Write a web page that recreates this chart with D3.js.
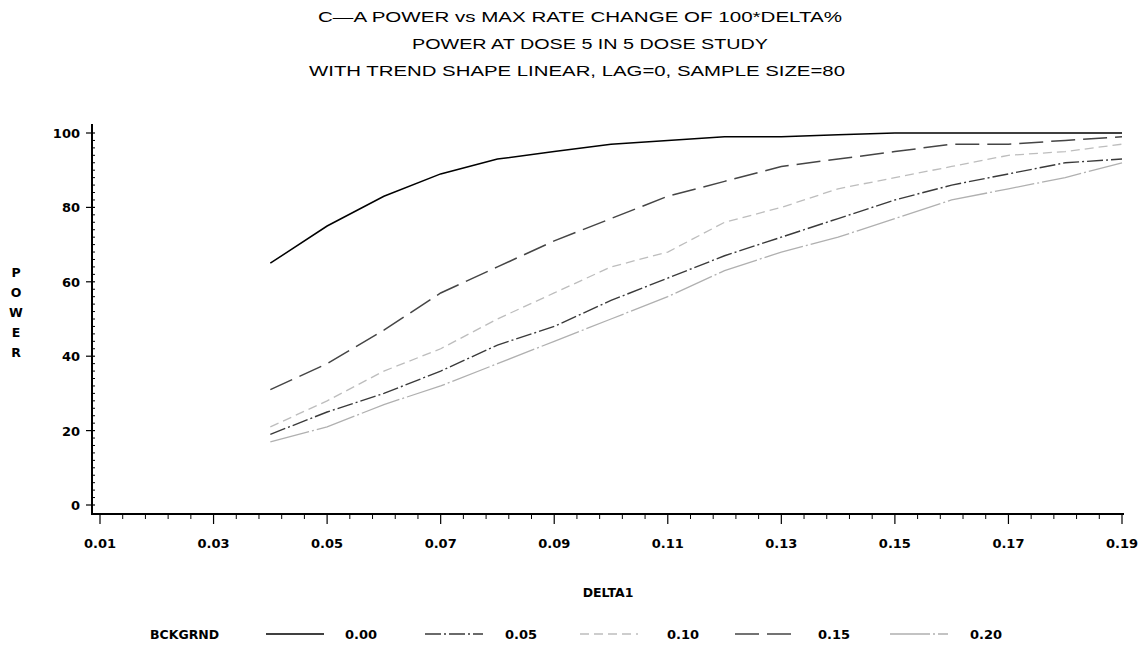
<!DOCTYPE html>
<html>
<head>
<meta charset="utf-8">
<script src="https://cdn.jsdelivr.net/npm/d3@7"></script>
<style>
  html, body { margin: 0; padding: 0; background: #fff; }
  svg { display: block; }
  .t { font-family: "Liberation Sans", Arial, sans-serif; fill: #000; }
  .b { font-family: "DejaVu Sans", "Liberation Sans", sans-serif; font-weight: bold; fill: #000; }
</style>
</head>
<body>
<svg id="chart" width="1145" height="648"></svg>
<script>
// Power curves by background rate (BCKGRND), delta from 0.04 to 0.19
const titles = [
  "C\u2014A POWER vs MAX RATE CHANGE OF 100*DELTA%",
  "POWER AT DOSE 5 IN 5 DOSE STUDY",
  "WITH TREND SHAPE LINEAR, LAG=0, SAMPLE SIZE=80"
];
const delta = [0.04, 0.05, 0.06, 0.07, 0.08, 0.09, 0.10, 0.11, 0.12, 0.13, 0.14, 0.15, 0.16, 0.17, 0.18, 0.19];
const bg000 = [65, 75, 83, 89, 93, 95, 97, 98, 99, 99, 99.5, 100, 100, 100, 100, 100];
const bg005 = [19, 25, 30, 36, 43, 48, 55, 61, 67, 72, 77, 82, 86, 89, 92, 93];
const bg010 = [21, 28, 36, 42, 50, 57, 64, 68, 76, 80, 85, 88, 91, 94, 95, 97];
const bg015 = [31, 38, 47, 57, 64, 71, 77, 83, 87, 91, 93, 95, 97, 97, 98, 99];
const bg020 = [17, 21, 27, 32, 38, 44, 50, 56, 63, 68, 72, 77, 82, 85, 88, 92];
const seriesNames = ["0.00", "0.05", "0.10", "0.15", "0.20"];
const xTicks = [0.01, 0.03, 0.05, 0.07, 0.09, 0.11, 0.13, 0.15, 0.17, 0.19];
const yTicks = [0, 20, 40, 60, 80, 100];

const styles = [
  { color: "#000000", dash: null, w: 1.5 },
  { color: "#3a3a3a", dash: "16,3,2,3", w: 1.4 },
  { color: "#bdbdbd", dash: "9,5", w: 1.3 },
  { color: "#454545", dash: "24,8", w: 1.5 },
  { color: "#b0b0b0", dash: "40,3,2,3", w: 1.3 }
];
const seriesValues = [bg000, bg005, bg010, bg015, bg020];

const svg = d3.select("#chart");
const x = d3.scaleLinear().domain([0.01, 0.19]).range([100, 1122]);
const y = d3.scaleLinear().domain([0, 100]).range([505, 133]);

// titles (wide lettering)
const titleCx = [580, 590, 577];
const titleLen = [524, 356, 536];
svg.selectAll("text.title").data(titles).enter().append("text")
  .attr("class", "t title")
  .attr("x", (d, i) => titleCx[i]).attr("y", (d, i) => 22 + i * 27)
  .attr("text-anchor", "middle")
  .attr("font-size", 15)
  .attr("textLength", (d, i) => titleLen[i])
  .attr("lengthAdjust", "spacingAndGlyphs")
  .text(d => d);

// y axis: major ticks outward, minor ticks inward
const yAxisX = 92;
svg.append("line").attr("x1", yAxisX).attr("x2", yAxisX).attr("y1", 124).attr("y2", 515)
  .attr("stroke", "#000").attr("stroke-width", 2);
const yMinor = d3.range(0, 101, 2).filter(v => v % 20 !== 0);
svg.selectAll("line.ymin").data(yMinor).enter().append("line")
  .attr("x1", yAxisX).attr("x2", yAxisX + 3)
  .attr("y1", d => y(d)).attr("y2", d => y(d))
  .attr("stroke", "#000").attr("stroke-width", 1);
svg.selectAll("line.ymaj").data(yTicks).enter().append("line")
  .attr("x1", yAxisX - 6).attr("x2", yAxisX + 3)
  .attr("y1", d => y(d)).attr("y2", d => y(d))
  .attr("stroke", "#000").attr("stroke-width", 1.2);
svg.selectAll("text.ylab").data(yTicks).enter().append("text")
  .attr("class", "b")
  .attr("x", 80).attr("y", d => y(d) + 5)
  .attr("text-anchor", "end")
  .attr("font-size", 13)
  .text(d => d);

// y axis label, stacked letters
svg.selectAll("text.ytitle").data("POWER".split("")).enter().append("text")
  .attr("class", "b")
  .attr("x", 16).attr("y", (d, i) => 277 + i * 20)
  .attr("text-anchor", "middle")
  .attr("font-size", 12.5)
  .text(d => d);

// x axis
const xAxisY = 514;
svg.append("line").attr("x1", 91).attr("x2", 1124).attr("y1", xAxisY).attr("y2", xAxisY)
  .attr("stroke", "#000").attr("stroke-width", 2);
const xMinor = d3.range(0, 46).map(i => 0.01 + i * 0.004).filter((v, i) => i % 5 !== 0);
svg.selectAll("line.xmin").data(xMinor).enter().append("line")
  .attr("x1", d => x(d)).attr("x2", d => x(d))
  .attr("y1", xAxisY).attr("y2", xAxisY + 5)
  .attr("stroke", "#000").attr("stroke-width", 1);
svg.selectAll("line.xmaj").data(xTicks).enter().append("line")
  .attr("x1", d => x(d)).attr("x2", d => x(d))
  .attr("y1", xAxisY).attr("y2", xAxisY + 10)
  .attr("stroke", "#000").attr("stroke-width", 1.2);
svg.selectAll("text.xlab").data(xTicks).enter().append("text")
  .attr("class", "b")
  .attr("x", d => x(d)).attr("y", 548)
  .attr("text-anchor", "middle")
  .attr("font-size", 13)
  .text(d => d3.format(".2f")(d));

svg.append("text").attr("class", "b")
  .attr("x", 608).attr("y", 597)
  .attr("text-anchor", "middle").attr("font-size", 12.5)
  .text("DELTA1");

// curves
const line = d3.line().x((d, i) => x(delta[i])).y(d => y(d));
seriesValues.forEach((vals, k) => {
  svg.append("path")
    .datum(vals)
    .attr("d", line)
    .attr("fill", "none")
    .attr("stroke", styles[k].color)
    .attr("stroke-width", styles[k].w)
    .attr("stroke-dasharray", styles[k].dash);
});

// legend
const legY = 634;
svg.append("text").attr("class", "b")
  .attr("x", 150).attr("y", legY + 5)
  .attr("font-size", 12.5).text("BCKGRND");
const legLineX = [266, 425, 580, 735, 890];
const legLabelX = [345, 505, 667, 818, 970];
seriesNames.forEach((name, k) => {
  svg.append("line")
    .attr("x1", legLineX[k]).attr("x2", legLineX[k] + 58)
    .attr("y1", legY).attr("y2", legY)
    .attr("stroke", styles[k].color)
    .attr("stroke-width", styles[k].w)
    .attr("stroke-dasharray", styles[k].dash);
  svg.append("text").attr("class", "b")
    .attr("x", legLabelX[k]).attr("y", legY + 5)
    .attr("font-size", 13).text(name);
});
</script>
</body>
</html>
